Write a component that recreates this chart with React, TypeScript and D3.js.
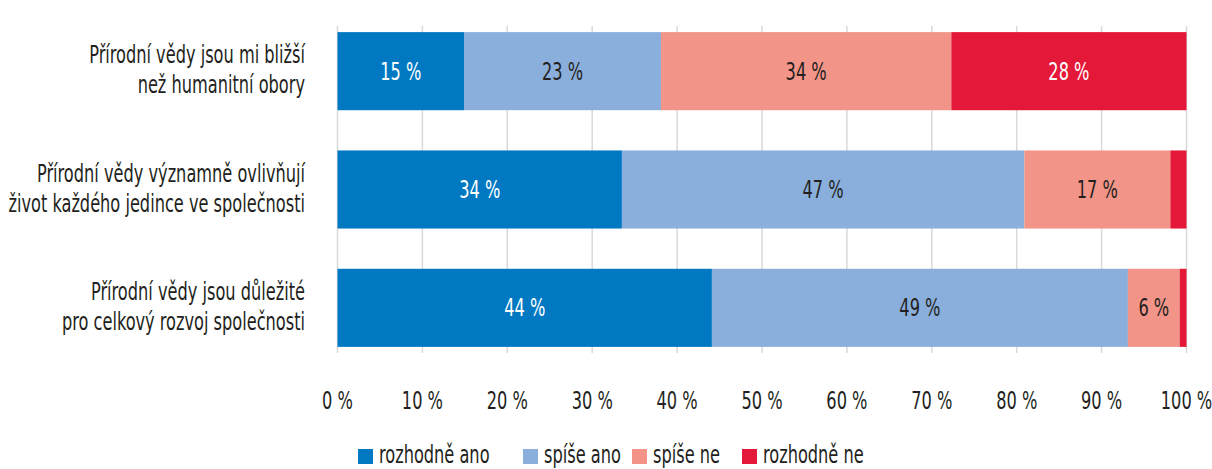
import React from "react";
import * as d3 from "d3";

const categories: string[][] = [
  ["Přírodní vědy jsou mi bližší", "než humanitní obory"],
  ["Přírodní vědy významně ovlivňují", "život každého jedince ve společnosti"],
  ["Přírodní vědy jsou důležité", "pro celkový rozvoj společnosti"],
];
const seriesNames = ["rozhodně ano", "spíše ano", "spíše ne", "rozhodně ne"];
const seriesColors = ["#0079c2", "#8aafdc", "#f29487", "#e41838"];
const labelColors = ["#ffffff", "#231f20", "#231f20", "#ffffff"];
const rozhodneAno = [14.9, 33.5, 44.1];
const spiseAno = [23.2, 47.4, 49.0];
const spiseNe = [34.2, 17.2, 6.1];
const rozhodneNe = [27.7, 1.9, 0.8];
const tickValues = [0, 10, 20, 30, 40, 50, 60, 70, 80, 90, 100];

const FONT = "'DejaVu Sans Condensed', 'Liberation Sans Narrow', sans-serif";
const TEXT = "#231f20";
const SX = 0.75;

function CText(props: { x: number; y: number; anchor?: string; fs: number; fill: string; dy?: string; children: any }) {
  return (
    <text
      transform={`translate(${props.x},${props.y}) scale(${SX},1)`}
      x={0}
      y={0}
      dy={props.dy}
      textAnchor={props.anchor || "start"}
      fontSize={props.fs}
      fill={props.fill}
    >
      {props.children}
    </text>
  );
}

export default function App() {
  const W = 1212, H = 469;
  const x = d3.scaleLinear().domain([0, 100]).range([337.5, 1186.5]);
  const y = d3.scaleBand<number>().domain([0, 1, 2]).range([12, 367]).paddingInner(0.34).paddingOuter(0.17);
  const series = [rozhodneAno, spiseAno, spiseNe, rozhodneNe];
  const rows = categories.map((_, i) => {
    const obj: any = { i };
    seriesNames.forEach((n, k) => (obj[n] = series[k][i]));
    return obj;
  });
  const stacked = d3.stack<any>().keys(seriesNames)(rows);
  const fs = 24;

  const legendX = [358, 523, 632, 742];

  return (
    <svg width={W} height={H} style={{ position: "absolute", left: 0, top: 0, background: "#fff" }} fontFamily={FONT}>
      {tickValues.map((t) => (
        <line key={"g" + t} x1={x(t)} x2={x(t)} y1={26} y2={353} stroke="#d9d9d9" strokeWidth={1.5} />
      ))}
      {stacked.map((s, k) =>
        s.map((d, i) => {
          const x0 = x(d[0]), x1 = x(d[1]);
          const yy = y(i)!;
          const v = d[1] - d[0];
          return (
            <g key={k + "-" + i}>
              <rect x={x0} y={yy} width={x1 - x0} height={y.bandwidth()} fill={seriesColors[k]} />
              {v >= 3 && (
                <CText x={(x0 + x1) / 2} y={yy + y.bandwidth() / 2} dy="0.36em" anchor="middle" fs={fs} fill={labelColors[k]}>
                  {Math.round(v) + " %"}
                </CText>
              )}
            </g>
          );
        })
      )}
      {categories.map((lines, i) => {
        const cy = y(i)! + y.bandwidth() / 2;
        return (
          <g key={"c" + i}>
            <CText x={305} y={cy - 8} anchor="end" fs={fs} fill={TEXT}>{lines[0]}</CText>
            <CText x={305} y={cy + 22} anchor="end" fs={fs} fill={TEXT}>{lines[1]}</CText>
          </g>
        );
      })}
      {tickValues.map((t) => (
        <CText key={"t" + t} x={x(t)} y={409} anchor="middle" fs={fs} fill={TEXT}>
          {t + " %"}
        </CText>
      ))}
      {seriesNames.map((n, k) => (
        <g key={"l" + k}>
          <rect x={legendX[k]} y={449} width={15} height={15} fill={seriesColors[k]} />
          <CText x={legendX[k] + 21} y={463} fs={fs} fill={TEXT}>{n}</CText>
        </g>
      ))}
    </svg>
  );
}
